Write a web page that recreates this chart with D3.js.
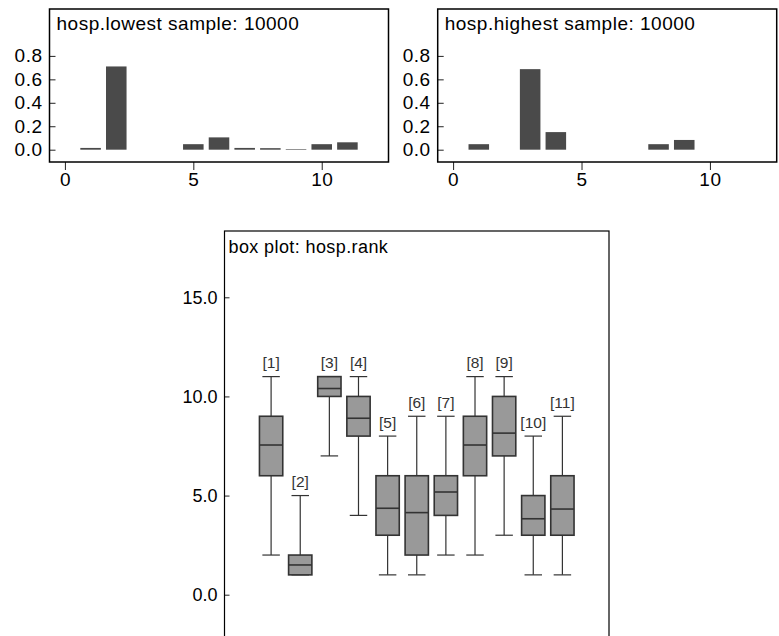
<!DOCTYPE html>
<html>
<head>
<meta charset="utf-8">
<script src="https://cdn.jsdelivr.net/npm/d3@7"></script>
<style>
  body { margin: 0; background: #fff; }
  text { font-family: "Liberation Sans", Arial, Helvetica, sans-serif; }
</style>
</head>
<body>
<div id="chart"></div>
<script>
// hospital ranks 1..11
var ranks = [1, 2, 3, 4, 5, 6, 7, 8, 9, 10, 11];

// probability of being ranked lowest / highest (10000 samples)
var lowestProb  = [0.015, 0.71, 0, 0, 0.047, 0.105, 0.015, 0.013, 0.005, 0.047, 0.063];
var highestProb = [0.047, 0, 0.687, 0.15, 0, 0, 0, 0.047, 0.083, 0, 0];

// box plot of hosp.rank
var boxMin = [2, 1, 7, 4, 1, 1, 2, 2, 3, 1, 1];
var boxQ1  = [6, 1, 10, 8, 3, 2, 4, 6, 7, 3, 3];
var boxMed = [7.55, 1.5, 10.4, 8.9, 4.36, 4.14, 5.18, 7.55, 8.15, 3.83, 4.32];
var boxQ3  = [9, 2, 11, 10, 6, 6, 6, 9, 10, 5, 6];
var boxMax = [11, 5, 11, 11, 8, 9, 9, 11, 11, 8, 9];

var barYTicks = [0, 0.2, 0.4, 0.6, 0.8];
var barXTicks = [0, 5, 10];
var boxYTicks = [0, 5, 10, 15];

var svg = d3.select("#chart").append("svg")
  .attr("width", 779)
  .attr("height", 636);

var fmt = d3.format(".1f");

// one bar panel
function barPanel(left, title, values) {
  var frame = {x0: left, x1: left + 339, y0: 9, y1: 162};
  var x = d3.scaleLinear().domain([-0.6, 12.6]).range([frame.x0, frame.x1]);
  var y = d3.scaleLinear().domain([-0.105, 1.2]).range([frame.y1, frame.y0]);

  var g = svg.append("g");

  g.selectAll("rect.bar")
    .data(values)
    .enter()
    .append("rect")
    .attr("class", "bar")
    .attr("x", (d, i) => x(ranks[i] - 0.4))
    .attr("width", x(0.8) - x(0))
    .attr("y", d => y(d))
    .attr("height", d => y(0) - y(d))
    .attr("fill", "#4a4a4a");

  var yAxis = g.append("g")
    .attr("transform", `translate(${frame.x0}, 0)`)
    .call(d3.axisLeft(y).tickValues(barYTicks).tickFormat(fmt).tickSize(-6).tickPadding(7));

  var xAxis = g.append("g")
    .attr("transform", `translate(0, ${frame.y1})`)
    .call(d3.axisBottom(x).tickValues(barXTicks).tickSize(8).tickPadding(3));

  [yAxis, xAxis].forEach(function(a) {
    a.select(".domain").remove();
    a.selectAll("line").attr("stroke", "#222").attr("stroke-width", 1);
    a.selectAll("text").attr("font-size", 19).attr("letter-spacing", 0.5).attr("fill", "#000");
  });

  g.append("rect")
    .attr("x", frame.x0)
    .attr("y", frame.y0)
    .attr("width", frame.x1 - frame.x0)
    .attr("height", frame.y1 - frame.y0)
    .attr("fill", "none")
    .attr("stroke", "#000")
    .attr("stroke-width", 1.5);

  g.append("text")
    .attr("x", frame.x0 + 7)
    .attr("y", 30)
    .attr("font-size", 19)
    .attr("letter-spacing", 0.5)
    .text(title);
}

barPanel(49.5, "hosp.lowest sample: 10000", lowestProb);
barPanel(437.7, "hosp.highest sample: 10000", highestProb);

// box plot
var bf = {x0: 224.5, x1: 609, y0: 231, y1: 660};
var bx = d3.scaleLinear().domain([-0.6, 12.6]).range([bf.x0, bf.x1]);
var by = d3.scaleLinear().domain([0, 15]).range([594.7, 297.3]);

var boxG = svg.append("g");
var boxes = boxG.selectAll("g.box")
  .data(ranks)
  .enter()
  .append("g")
  .attr("class", "box");

var halfBox = (bx(0.8) - bx(0)) / 2;
var halfCap = (bx(0.6) - bx(0)) / 2;

// whisker
boxes.append("line")
  .attr("x1", d => bx(d)).attr("x2", d => bx(d))
  .attr("y1", (d, i) => by(boxMin[i]))
  .attr("y2", (d, i) => by(boxMax[i]))
  .attr("stroke", "#333").attr("stroke-width", 1.2);

// caps
boxes.append("line")
  .attr("x1", d => bx(d) - halfCap).attr("x2", d => bx(d) + halfCap)
  .attr("y1", (d, i) => by(boxMax[i])).attr("y2", (d, i) => by(boxMax[i]))
  .attr("stroke", "#333").attr("stroke-width", 1.2);
boxes.append("line")
  .attr("x1", d => bx(d) - halfCap).attr("x2", d => bx(d) + halfCap)
  .attr("y1", (d, i) => by(boxMin[i])).attr("y2", (d, i) => by(boxMin[i]))
  .attr("stroke", "#333").attr("stroke-width", 1.2);

// box
boxes.append("rect")
  .attr("x", d => bx(d) - halfBox)
  .attr("width", halfBox * 2)
  .attr("y", (d, i) => by(boxQ3[i]))
  .attr("height", (d, i) => by(boxQ1[i]) - by(boxQ3[i]))
  .attr("fill", "#999")
  .attr("stroke", "#333")
  .attr("stroke-width", 1.6);

// median
boxes.append("line")
  .attr("x1", d => bx(d) - halfBox).attr("x2", d => bx(d) + halfBox)
  .attr("y1", (d, i) => by(boxMed[i])).attr("y2", (d, i) => by(boxMed[i]))
  .attr("stroke", "#333").attr("stroke-width", 1.6);

// labels
boxes.append("text")
  .attr("x", d => bx(d))
  .attr("y", (d, i) => by(boxMax[i]) - 8.5)
  .attr("text-anchor", "middle")
  .attr("font-size", 15.5)
  .attr("fill", "#333")
  .text(d => "[" + d + "]");

var boxAxis = boxG.append("g")
  .attr("transform", `translate(${bf.x0}, 0)`)
  .call(d3.axisLeft(by).tickValues(boxYTicks).tickFormat(fmt).tickSize(-5).tickPadding(7));
boxAxis.select(".domain").remove();
boxAxis.selectAll("line").attr("stroke", "#222");
boxAxis.selectAll("text").attr("font-size", 18).attr("fill", "#000");

boxG.append("rect")
  .attr("x", bf.x0)
  .attr("y", bf.y0)
  .attr("width", bf.x1 - bf.x0)
  .attr("height", bf.y1 - bf.y0)
  .attr("fill", "none")
  .attr("stroke", "#000")
  .attr("stroke-width", 1.2);

boxG.append("text")
  .attr("x", bf.x0 + 4)
  .attr("y", 252.5)
  .attr("font-size", 18)
  .attr("letter-spacing", 0.4)
  .text("box plot: hosp.rank");
</script>
</body>
</html>
